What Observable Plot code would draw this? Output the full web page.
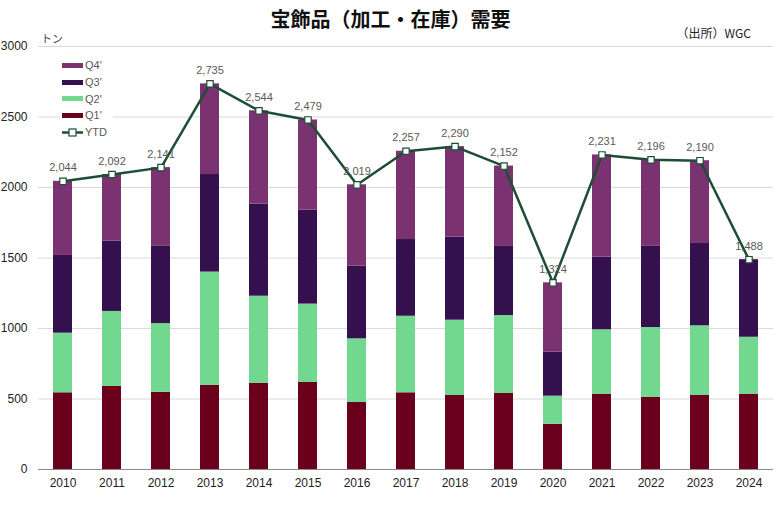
<!DOCTYPE html>
<html>
<head>
<meta charset="utf-8">
<script src="https://cdn.jsdelivr.net/npm/d3@7"></script>
<script src="https://cdn.jsdelivr.net/npm/@observablehq/plot@0.6"></script>
<style>
  html, body { margin: 0; padding: 0; background: #fff; }
  #wrap { position: relative; width: 781px; height: 510px; font-family: "Liberation Sans", Arial, sans-serif; }
  #title { position: absolute; left: 0; width: 781px; top: 5px; text-align: center; font-family: "Noto Sans CJK JP", sans-serif; font-weight: bold; font-size: 20px; color: #111; line-height: 28px; }
  #source { position: absolute; right: 30px; top: 24px; font-family: "Noto Sans CJK JP", sans-serif; font-size: 12px; color: #222; }
  #unit { position: absolute; left: 41px; top: 30px; font-family: "Noto Sans CJK JP", sans-serif; font-size: 11px; color: #444; }
  #legend { position: absolute; left: 60px; top: 57px; background: #fff; padding: 0 6px 0 2px; }
  .li { display: flex; align-items: center; height: 16.7px; font-size: 11px; color: #595959; }
  .sw { width: 21px; height: 5px; margin-right: 2px; }
</style>
</head>
<body>
<div id="wrap">
  <div id="chart"></div>
  <div id="title">宝飾品（加工・在庫）需要</div>
  <div id="source">（出所）WGC</div>
  <div id="unit">トン</div>
  <div id="legend"></div>
</div>
<script>
const years = [2010, 2011, 2012, 2013, 2014, 2015, 2016, 2017, 2018, 2019, 2020, 2021, 2022, 2023, 2024];
const q1 = [544, 589, 548, 596, 612, 617, 475, 544, 525, 539, 321, 532, 513, 525, 532];
const q2 = [423, 532, 487, 804, 617, 556, 452, 543, 534, 553, 199, 459, 494, 494, 406];
const q3 = [551, 498, 551, 692, 653, 666, 515, 544, 589, 490, 312, 515, 579, 584, 550];
const q4 = [526, 473, 555, 643, 662, 640, 577, 626, 642, 570, 492, 725, 610, 587, 0];
const ytd = [2044, 2092, 2141, 2735, 2544, 2479, 2019, 2257, 2290, 2152, 1324, 2231, 2196, 2190, 1488];
const seriesNames = ["Q1'", "Q2'", "Q3'", "Q4'"];
const seriesColors = ["#6A001C", "#72D78F", "#35104E", "#7B3270"];
const yTicks = [0, 500, 1000, 1500, 2000, 2500, 3000];
const lineColor = "#1D4D35";

const seriesValues = [q1, q2, q3, q4];
const stacked = [];
years.forEach((yr, i) => {
  seriesValues.forEach((vals, s) => {
    stacked.push({ year: String(yr), series: seriesNames[s], value: vals[i] });
  });
});
const totals = years.map((yr, i) => ({ year: String(yr), value: ytd[i] }));

const chart = Plot.plot({
  width: 781,
  height: 510,
  marginTop: 46,
  marginBottom: 41,
  marginLeft: 38,
  marginRight: 8,
  style: { fontFamily: "'Liberation Sans', Arial, sans-serif", fontSize: "12px", color: "#222", background: "#fff" },
  x: { domain: years.map(String), paddingInner: 0.61, paddingOuter: 0.305, label: null },
  y: { domain: [0, 3000], ticks: yTicks, label: null },
  color: { domain: seriesNames, range: seriesColors },
  marks: [
    Plot.gridY(yTicks, { stroke: "#d9d9d9", strokeOpacity: 1, strokeWidth: 1 }),
    Plot.axisY(yTicks, { tickSize: 0, tickPadding: 11, fontSize: 12, fill: "#222", label: null, tickFormat: d => String(d) }),
    Plot.axisX({ tickSize: 0, tickPadding: 9, fontSize: 12, fill: "#222", label: null }),
    Plot.barY(stacked, { x: "year", y: "value", fill: "series" }),
    Plot.ruleY([0], { stroke: "#8c8c8c", strokeWidth: 1 }),
    Plot.line(totals, { x: "year", y: "value", stroke: lineColor, strokeWidth: 2.5 }),
    Plot.dot(totals, { x: "year", y: "value", symbol: "square", r: 3.6, fill: "#fff", stroke: lineColor, strokeWidth: 1.2 }),
    Plot.text(totals, { x: "year", y: "value", text: d => d3.format(",")(d.value), dy: -13.5, fontSize: 11, fill: "#595959" })
  ]
});
document.getElementById("chart").appendChild(chart);

const legend = document.getElementById("legend");
const legendItems = [3, 2, 1, 0].map(i => ({ name: seriesNames[i], color: seriesColors[i] }));
legendItems.forEach(it => {
  const row = document.createElement("div");
  row.className = "li";
  row.innerHTML = `<span class="sw" style="background:${it.color}"></span><span>${it.name}</span>`;
  legend.appendChild(row);
});
const ytdRow = document.createElement("div");
ytdRow.className = "li";
ytdRow.innerHTML = `<svg width="21" height="9" style="margin-right:2px"><line x1="0" y1="4.5" x2="21" y2="4.5" stroke="${lineColor}" stroke-width="2.5"/><rect x="7" y="1" width="7" height="7" fill="#fff" stroke="${lineColor}" stroke-width="1.2"/></svg><span>YTD</span>`;
legend.appendChild(ytdRow);
</script>
</body>
</html>
